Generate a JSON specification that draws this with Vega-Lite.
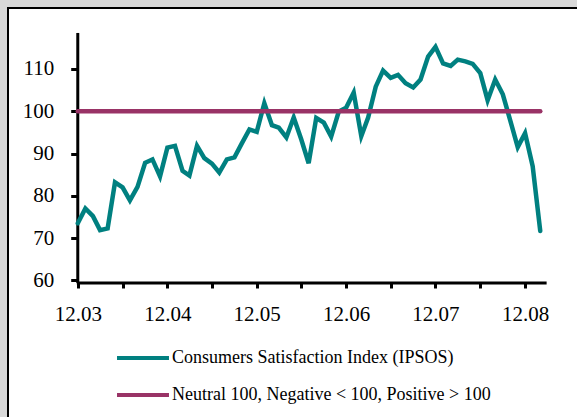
{
  "$schema": "https://vega.github.io/schema/vega-lite/v6.json",
  "width": 580,
  "height": 423,
  "autosize": {"type": "none"},
  "padding": {"left": 8, "top": 8, "right": 0, "bottom": 0},
  "background": "#d9d9d9",
  "title": {"text": "Customer Satisfaction Index (CSI)", "anchor": "start", "baseline": "alphabetic", "offset": 2, "font": "Liberation Serif", "fontSize": 18, "fontWeight": "bold", "color": "#111111", "dx": -2},
  "config": {"view": {"fill": "white", "stroke": "black", "strokeWidth": 2}},
  "datasets": {
    "csi": [
      {"month": "2003-12-01", "value": 73.5},
      {"month": "2004-01-01", "value": 77.0},
      {"month": "2004-02-01", "value": 75.2},
      {"month": "2004-03-01", "value": 71.9},
      {"month": "2004-04-01", "value": 72.3},
      {"month": "2004-05-01", "value": 83.2},
      {"month": "2004-06-01", "value": 82.0},
      {"month": "2004-07-01", "value": 78.9},
      {"month": "2004-08-01", "value": 82.1},
      {"month": "2004-09-01", "value": 87.8},
      {"month": "2004-10-01", "value": 88.6},
      {"month": "2004-11-01", "value": 84.6},
      {"month": "2004-12-01", "value": 91.4},
      {"month": "2005-01-01", "value": 91.8},
      {"month": "2005-02-01", "value": 85.9},
      {"month": "2005-03-01", "value": 84.8},
      {"month": "2005-04-01", "value": 91.8},
      {"month": "2005-05-01", "value": 88.9},
      {"month": "2005-06-01", "value": 87.6},
      {"month": "2005-07-01", "value": 85.5},
      {"month": "2005-08-01", "value": 88.6},
      {"month": "2005-09-01", "value": 89.1},
      {"month": "2005-10-01", "value": 92.4},
      {"month": "2005-11-01", "value": 95.7},
      {"month": "2005-12-01", "value": 95.1},
      {"month": "2006-01-01", "value": 101.9},
      {"month": "2006-02-01", "value": 96.7},
      {"month": "2006-03-01", "value": 96.1},
      {"month": "2006-04-01", "value": 93.8},
      {"month": "2006-05-01", "value": 98.5},
      {"month": "2006-06-01", "value": 93.3},
      {"month": "2006-07-01", "value": 87.7},
      {"month": "2006-08-01", "value": 98.4},
      {"month": "2006-09-01", "value": 97.3},
      {"month": "2006-10-01", "value": 94.0},
      {"month": "2006-11-01", "value": 99.9},
      {"month": "2006-12-01", "value": 100.8},
      {"month": "2007-01-01", "value": 104.4},
      {"month": "2007-02-01", "value": 94.1},
      {"month": "2007-03-01", "value": 98.5},
      {"month": "2007-04-01", "value": 105.8},
      {"month": "2007-05-01", "value": 109.6},
      {"month": "2007-06-01", "value": 107.9},
      {"month": "2007-07-01", "value": 108.6},
      {"month": "2007-08-01", "value": 106.6},
      {"month": "2007-09-01", "value": 105.6},
      {"month": "2007-10-01", "value": 107.5},
      {"month": "2007-11-01", "value": 112.9},
      {"month": "2007-12-01", "value": 115.2},
      {"month": "2008-01-01", "value": 111.3},
      {"month": "2008-02-01", "value": 110.7},
      {"month": "2008-03-01", "value": 112.2},
      {"month": "2008-04-01", "value": 111.8},
      {"month": "2008-05-01", "value": 111.2},
      {"month": "2008-06-01", "value": 109.0},
      {"month": "2008-07-01", "value": 102.6},
      {"month": "2008-08-01", "value": 107.5},
      {"month": "2008-09-01", "value": 104.0},
      {"month": "2008-10-01", "value": 97.9},
      {"month": "2008-11-01", "value": 91.5},
      {"month": "2008-12-01", "value": 94.8},
      {"month": "2009-01-01", "value": 87.0},
      {"month": "2009-02-01", "value": 71.7}
    ]
  },
  "layer": [
    {
      "data": {"values": [{}]},
      "mark": {"type": "rule", "color": "black", "strokeWidth": 3},
      "encoding": {
        "x": {"datum": {"year": 2003, "month": 12, "date": 1, "utc": true}, "type": "temporal"},
        "y": {"datum": 59.4},
        "y2": {"datum": 118.5}
      }
    },
    {
      "data": {"values": [{}]},
      "mark": {"type": "rule", "color": "black", "strokeWidth": 3},
      "encoding": {
        "x": {"datum": {"year": 2003, "month": 11, "date": 27, "utc": true}, "type": "temporal"},
        "x2": {"datum": {"year": 2009, "month": 2, "date": 27, "utc": true}},
        "y": {"datum": 59.4}
      }
    },
    {
      "data": {"name": "csi"},
      "mark": {"type": "line", "strokeWidth": 4.5, "strokeCap": "round", "strokeJoin": "miter"},
      "encoding": {
        "x": {
          "field": "month", "type": "temporal",
          "scale": {"type": "utc", "domain": [{"year": 2003, "month": 2, "date": 19, "utc": true}, {"year": 2009, "month": 8, "date": 15, "utc": true}]},
          "axis": {
            "title": null, "domain": false, "grid": false, "offset": -148,
            "values": [
              {"year": 2003, "month": 12, "date": 1, "utc": true},
              {"year": 2004, "month": 6, "date": 1, "utc": true},
              {"year": 2004, "month": 12, "date": 1, "utc": true},
              {"year": 2005, "month": 6, "date": 1, "utc": true},
              {"year": 2005, "month": 12, "date": 1, "utc": true},
              {"year": 2006, "month": 6, "date": 1, "utc": true},
              {"year": 2006, "month": 12, "date": 1, "utc": true},
              {"year": 2007, "month": 6, "date": 1, "utc": true},
              {"year": 2007, "month": 12, "date": 1, "utc": true},
              {"year": 2008, "month": 6, "date": 1, "utc": true},
              {"year": 2008, "month": 12, "date": 1, "utc": true}
            ],
            "labelExpr": "utcmonth(datum.value) == 11 ? utcFormat(datum.value, '%m.%y') : ''",
            "labelOverlap": false, "labelFlush": false,
            "tickSize": 5, "tickWidth": 3, "tickColor": "black",
            "labelFont": "Liberation Serif", "labelFontSize": 21, "labelColor": "black", "labelPadding": 15
          }
        },
        "y": {
          "field": "value", "type": "quantitative",
          "scale": {"domain": [24.4, 124.4], "nice": false, "zero": false},
          "axis": {
            "title": null, "domain": false, "grid": false, "offset": -69.7,
            "values": [60, 70, 80, 90, 100, 110],
            "tickSize": 7, "tickWidth": 3, "tickColor": "black",
            "labelFont": "Liberation Serif", "labelFontSize": 21, "labelColor": "black", "labelPadding": 17
          }
        },
        "color": {
          "datum": "Consumers Satisfaction Index (IPSOS)",
          "scale": {"domain": ["Consumers Satisfaction Index (IPSOS)", "Neutral 100, Negative < 100, Positive > 100"], "range": ["#008080", "#993366"]},
          "legend": {
            "title": null, "orient": "none", "legendX": 107, "legendY": 322, "padding": 0,
            "symbolType": "stroke", "symbolSize": 2700, "symbolStrokeWidth": 4,
            "labelFont": "Liberation Serif", "labelFontSize": 18, "labelColor": "black", "labelOffset": 1, "rowPadding": -13, "labelLimit": 500
          }
        }
      }
    },
    {
      "data": {"values": [{}]},
      "mark": {"type": "rule", "strokeWidth": 4.5, "strokeCap": "round"},
      "encoding": {
        "x": {"datum": {"year": 2003, "month": 12, "date": 1, "utc": true}, "type": "temporal"},
        "x2": {"datum": {"year": 2009, "month": 2, "date": 1, "utc": true}},
        "y": {"datum": 100},
        "color": {"datum": "Neutral 100, Negative < 100, Positive > 100"}
      }
    }
  ]
}
